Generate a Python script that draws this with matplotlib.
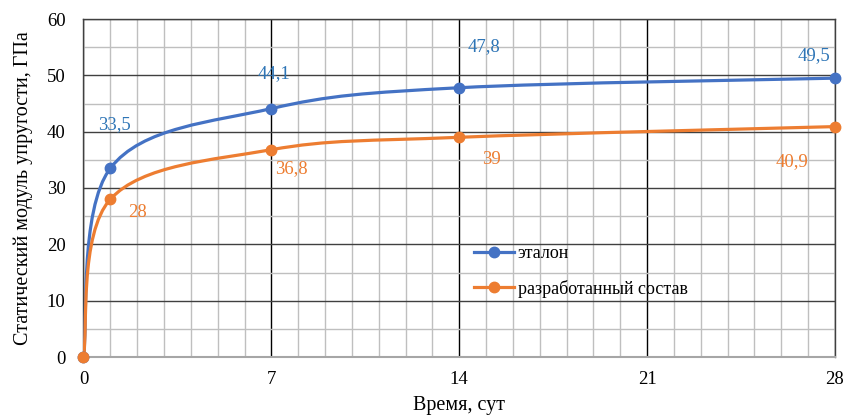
import numpy as np
import matplotlib
matplotlib.use("Agg")
import matplotlib.pyplot as plt
from matplotlib.path import Path
from matplotlib.patches import PathPatch
from matplotlib.lines import Line2D

days = [0, 1, 7, 14, 28]
etalon = [0, 33.5, 44.1, 47.8, 49.5]
developed = [0, 28, 36.8, 39, 40.9]
etalon_labels = ["33,5", "44,1", "47,8", "49,5"]
developed_labels = ["28", "36,8", "39", "40,9"]
series_names = ["эталон", "разработанный состав"]

BLUE = "#4472C4"
ORANGE = "#ED7D31"
BLUE_TXT = "#2E75B6"
ORANGE_TXT = "#ED7D31"

plt.rcParams['font.family'] = ['Liberation Serif', 'DejaVu Serif']

fig = plt.figure(figsize=(8.45, 4.16), dpi=100)
ax = fig.add_axes([83.5/845, 1-357/416, (835-83.5)/845, (357-19)/416])
ax.set_xlim(0, 28)
ax.set_ylim(0, 60)

ax.set_xticks([0, 7, 14, 21, 28])
ax.set_xticks(np.arange(0, 29, 1), minor=True)
ax.set_yticks(np.arange(0, 61, 10))
ax.set_yticks(np.arange(0, 61, 5), minor=True)
ax.grid(which='minor', color='#BFBFBF', linewidth=1.0, zorder=0)
ax.grid(which='major', axis='x', color='#000000', linewidth=1.0, zorder=0.5)
ax.grid(which='major', axis='y', color='#404040', linewidth=1.0, zorder=0.5)
ax.set_axisbelow(True)
ax.tick_params(which='both', length=0)
ax.tick_params(axis='both', labelsize=13.5)
ax.tick_params(axis='x', pad=10)
ax.tick_params(axis='y', pad=13)
for s in ['left', 'top', 'right']:
    ax.spines[s].set_color('#404040')
    ax.spines[s].set_linewidth(1.0)
ax.spines['bottom'].set_color('#A6A6A6')
ax.spines['bottom'].set_linewidth(1.5)

ax.set_xlabel("Время, сут", fontsize=14.5, labelpad=6)
ax.set_ylabel("Статический модуль упругости, ГПа", fontsize=14.5, labelpad=10)


def smooth_path(xs, ys):
    pts = ax.transData.transform(np.column_stack([xs, ys]))
    n = len(pts)
    verts = [pts[0]]
    codes = [Path.MOVETO]
    for i in range(n - 1):
        p0 = pts[max(i - 1, 0)]
        p1 = pts[i]
        p2 = pts[i + 1]
        p3 = pts[min(i + 2, n - 1)]
        d02 = np.hypot(*(p2 - p0))
        d12 = np.hypot(*(p2 - p1))
        d13 = np.hypot(*(p3 - p1))
        f = 1/6
        g = 1/6
        if d02 > 0 and d02 * f > d12 / 2:
            f = d12 / d02 / 2
        if d13 > 0 and d13 * g > d12 / 2:
            g = d12 / d13 / 2
        c1 = p1 + f * (p2 - p0)
        c2 = p2 - g * (p3 - p1)
        verts += [c1, c2, p2]
        codes += [Path.CURVE4] * 3
    verts = ax.transData.inverted().transform(np.array(verts))
    return Path(verts, codes)


for ys, col in [(etalon, BLUE), (developed, ORANGE)]:
    patch = PathPatch(smooth_path(days, ys), facecolor='none', edgecolor=col,
                      linewidth=2.3, capstyle='round', joinstyle='round', zorder=3)
    ax.add_patch(patch)
    ax.plot(days, ys, linestyle='none', marker='o', markersize=7.5,
            color=col, zorder=4, clip_on=False)

# data labels (offsets in pixels, text centre relative to point)
blue_off = [(4, 44), (3, 35), (25, 41), (-21, 23)]
orange_off = [(27, -13), (20, -19), (32, -22), (-43, -35)]
for i in range(1, len(days)):
    ax.annotate(etalon_labels[i-1], (days[i], etalon[i]), xytext=blue_off[i-1],
                textcoords='offset pixels', ha='center', va='center',
                color=BLUE_TXT, fontsize=13.5)
    ax.annotate(developed_labels[i-1], (days[i], developed[i]), xytext=orange_off[i-1],
                textcoords='offset pixels', ha='center', va='center',
                color=ORANGE_TXT, fontsize=13.5)

handles = [Line2D([], [], color=BLUE, lw=2.3, marker='o', markersize=7.5),
           Line2D([], [], color=ORANGE, lw=2.3, marker='o', markersize=7.5)]
leg = ax.legend(handles, series_names, loc='upper left',
                bbox_to_anchor=((467-83.5)/751.5, (357-238)/338),
                frameon=False, fontsize=13.0, handlelength=2.2,
                handletextpad=0.2, labelspacing=0.97, borderaxespad=0)

fig.savefig("out.png", dpi=100)
